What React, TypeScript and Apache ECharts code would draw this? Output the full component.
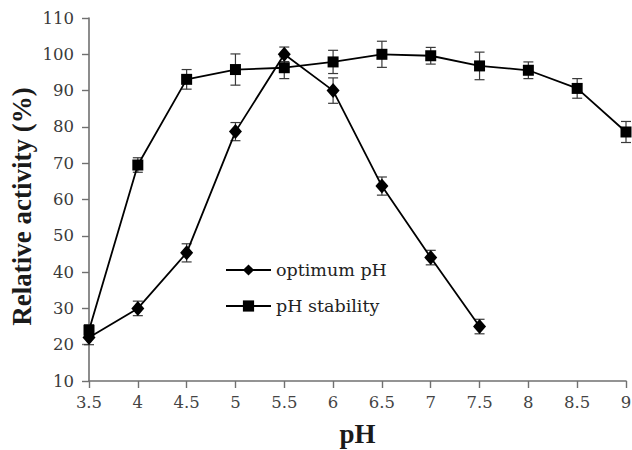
import React, { useEffect, useRef } from "react";
import * as echarts from "echarts";

const phValues = [3.5, 4, 4.5, 5, 5.5, 6, 6.5, 7, 7.5, 8, 8.5, 9];
const optimumPH = [22, 30, 45.3, 78.7, 100, 90, 63.7, 44, 25];
const optimumErr = [2, 2, 2.5, 2.5, 2, 3.5, 2.5, 2, 2];
const stabilityPH = [24, 69.5, 93.1, 95.8, 96.3, 97.9, 100, 99.6, 96.8, 95.6, 90.6, 78.6];
const stabilityErr = [1.5, 2, 2.7, 4.3, 3, 3.2, 3.6, 2.3, 3.8, 2.3, 2.7, 2.9];

const SERIF = "'Liberation Serif', 'Times New Roman', serif";
const WIDE = "'DejaVu Serif', serif";

export default function App() {
  const ref = useRef<HTMLDivElement>(null);
  useEffect(() => {
    if (!ref.current) return;
    const chart = echarts.init(ref.current, null, { renderer: "svg" });
    const optData = optimumPH.map((v, i) => [phValues[i], v]);
    const stabData = stabilityPH.map((v, i) => [phValues[i], v]);
    const optErrData = optimumPH.map((v, i) => [phValues[i], v - optimumErr[i], v + optimumErr[i]]);
    const stabErrData = stabilityPH.map((v, i) => [phValues[i], v - stabilityErr[i], v + stabilityErr[i]]);

    const renderErr = (params: any, api: any) => {
      const x = api.value(0);
      const lo = api.coord([x, api.value(1)]);
      const hi = api.coord([x, api.value(2)]);
      const hw = 5;
      const style = { stroke: "#3a3a3a", lineWidth: 1.2 };
      return {
        type: "group",
        children: [
          { type: "line", shape: { x1: lo[0], y1: lo[1], x2: hi[0], y2: hi[1] }, style },
          { type: "line", shape: { x1: lo[0] - hw, y1: lo[1], x2: lo[0] + hw, y2: lo[1] }, style },
          { type: "line", shape: { x1: hi[0] - hw, y1: hi[1], x2: hi[0] + hw, y2: hi[1] }, style },
        ],
      };
    };

    chart.setOption({
      animation: false,
      backgroundColor: "#fff",
      grid: { left: 89, right: 6, top: 18, bottom: 69, containLabel: false, outerBoundsMode: "none" },
      legend: {
        data: ["optimum pH", "pH stability"],
        orient: "vertical",
        left: 225,
        top: 261,
        padding: 0,
        itemWidth: 45,
        itemHeight: 14,
        itemGap: 18,
        textStyle: { fontFamily: WIDE, fontSize: 17.5, color: "#222" },
      },
      xAxis: {
        type: "value",
        min: 3.5,
        max: 9,
        interval: 0.5,
        name: "pH",
        nameLocation: "middle",
        nameGap: 39,
        nameMoveOverlap: false,
        nameTextStyle: { fontFamily: SERIF, fontSize: 27, fontWeight: "bold", color: "#1a1a1a" },
        axisLine: { lineStyle: { color: "#707070", width: 1.6 } },
        axisTick: { show: true, length: 7, lineStyle: { color: "#707070", width: 1.4 } },
        axisLabel: { fontFamily: WIDE, fontSize: 16.5, color: "#444", margin: 13 },
        splitLine: { show: false },
      },
      yAxis: {
        type: "value",
        min: 10,
        max: 110,
        interval: 10,
        name: "Relative activity (%)",
        nameLocation: "middle",
        nameGap: 54,
        nameMoveOverlap: false,
        nameTextStyle: {
          fontFamily: SERIF,
          fontSize: 27,
          fontWeight: "bold",
          color: "#1a1a1a",
          padding: [0, 14, 0, 0],
        },
        axisLine: { show: true, lineStyle: { color: "#707070", width: 1.6 } },
        axisTick: { show: true, length: 7, lineStyle: { color: "#707070", width: 1.4 } },
        axisLabel: { fontFamily: WIDE, fontSize: 16.5, color: "#3a3a3a", margin: 15 },
        splitLine: { show: false },
      },
      series: [
        {
          type: "custom",
          name: "optErr",
          renderItem: renderErr,
          data: optErrData,
          z: 1,
          silent: true,
        },
        {
          type: "custom",
          name: "stabErr",
          renderItem: renderErr,
          data: stabErrData,
          z: 1,
          silent: true,
        },
        {
          type: "line",
          name: "optimum pH",
          data: optData,
          symbol: "diamond",
          symbolSize: [13, 15],
          itemStyle: { color: "#000" },
          lineStyle: { color: "#000", width: 1.8 },
          z: 3,
        },
        {
          type: "line",
          name: "pH stability",
          data: stabData,
          symbol: "rect",
          symbolSize: 11,
          itemStyle: { color: "#000" },
          lineStyle: { color: "#000", width: 1.8 },
          z: 3,
        },
      ],
    });
    return () => chart.dispose();
  }, []);
  return <div ref={ref} style={{ width: 632, height: 450, position: "absolute", left: 0, top: 0 }} />;
}
